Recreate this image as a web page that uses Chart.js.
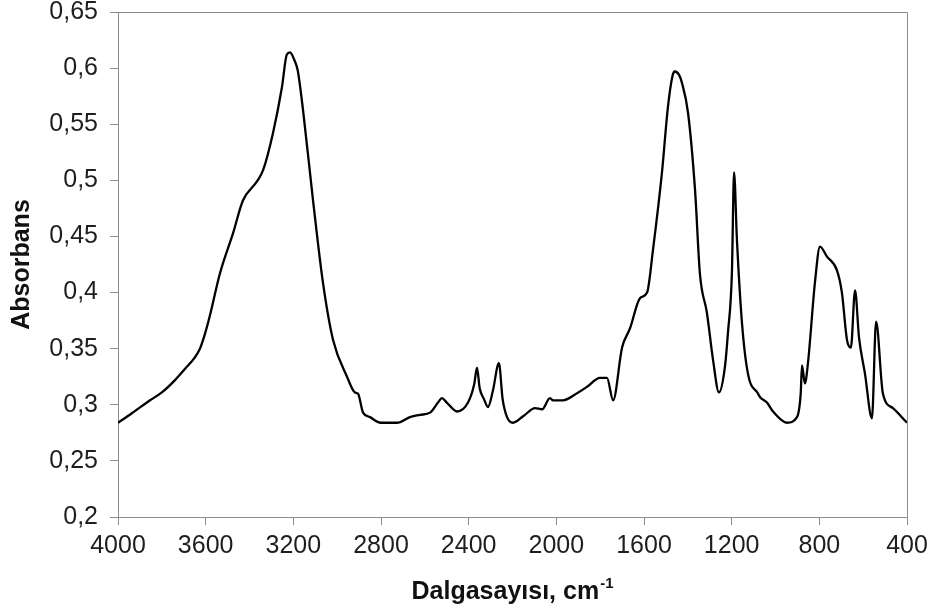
<!DOCTYPE html>
<html>
<head>
<meta charset="utf-8">
<script src="https://cdn.jsdelivr.net/npm/chart.js@4"></script>
<style>
  html, body { margin: 0; padding: 0; background: #fff; }
  canvas { display: block; }
</style>
</head>
<body>
<canvas id="myChart" width="933" height="610"></canvas>
<script>
// spectrum (wavenumber in cm-1, absorbance)
const wavenumbers = [
    4000, 3940, 3890, 3854, 3800, 3740, 3690, 3650, 3626, 3605, 3580, 3535, 3475, 3430, 3366, 3338, 3293, 3252,
    3230, 3215, 3195, 3180, 3156, 3110, 3065, 3019, 2955, 2919, 2905, 2882, 2850, 2818, 2800, 2727,
    2668, 2622, 2576, 2540, 2522, 2500, 2453, 2403, 2375, 2362, 2350, 2330, 2312, 2290, 2262, 2245,
    2225, 2198, 2150, 2097, 2065, 2029, 2015, 2006, 1970, 1900, 1860, 1801, 1769, 1741, 1700, 1664,
    1618, 1586, 1559, 1518, 1491, 1470, 1459, 1440, 1427, 1399, 1367, 1345, 1313, 1285, 1258, 1230,
    1217, 1199, 1189, 1176, 1153, 1126, 1080, 1071, 1039, 1011, 948, 902, 885, 879, 866, 852,
    820, 797, 765, 720, 697, 674, 656, 637, 619, 592, 560, 541, 510, 464, 400
];
const absorbance = [
    0.284, 0.292, 0.299, 0.304, 0.311, 0.322, 0.333, 0.342, 0.350, 0.362, 0.380, 0.417, 0.453, 0.482, 0.499, 0.509, 0.542, 0.583,
    0.612, 0.614, 0.607, 0.598, 0.563, 0.482, 0.409, 0.358, 0.325, 0.311, 0.310, 0.293, 0.289, 0.285, 0.284, 0.284,
    0.289, 0.291, 0.293, 0.302, 0.306, 0.302, 0.294, 0.302, 0.318, 0.333, 0.315, 0.305, 0.298, 0.312, 0.337, 0.305,
    0.289, 0.284, 0.290, 0.297, 0.296, 0.306, 0.304, 0.304, 0.304, 0.311, 0.316, 0.324, 0.324, 0.304, 0.351, 0.368,
    0.395, 0.400, 0.438, 0.507, 0.565, 0.593, 0.597, 0.594, 0.587, 0.560, 0.491, 0.417, 0.382, 0.340, 0.311, 0.335,
    0.364, 0.417, 0.507, 0.447, 0.373, 0.328, 0.310, 0.307, 0.302, 0.294, 0.284, 0.289, 0.310, 0.335, 0.319, 0.337,
    0.409, 0.441, 0.432, 0.420, 0.400, 0.358, 0.351, 0.402, 0.360, 0.328, 0.288, 0.374, 0.310, 0.297, 0.284
];
const xTicks = [4000, 3600, 3200, 2800, 2400, 2000, 1600, 1200, 800, 400];
const yTicks = [0.2, 0.25, 0.3, 0.35, 0.4, 0.45, 0.5, 0.55, 0.6, 0.65];

const points = wavenumbers.map((w, i) => ({ x: w, y: absorbance[i] }));
const fontFamily = "'Liberation Sans', Arial, sans-serif";
const axisColor = '#8c8c8c';

// top + right edges of the plot box
const boxPlugin = {
    id: 'box',
    beforeDatasetsDraw(chart) {
        const a = chart.chartArea;
        const ctx = chart.ctx;
        ctx.save();
        ctx.strokeStyle = axisColor;
        ctx.lineWidth = 1;
        ctx.beginPath();
        ctx.moveTo(a.left, a.top + 0.5);
        ctx.lineTo(a.right + 0.5, a.top + 0.5);
        ctx.lineTo(a.right + 0.5, a.bottom);
        ctx.stroke();
        ctx.restore();
    }
};

// x title with the superscript -1
const xTitlePlugin = {
    id: 'xTitle',
    afterDraw(chart) {
        const a = chart.chartArea;
        const ctx = chart.ctx;
        const main = 'Dalgasayısı, cm';
        const sup = '-1';
        ctx.save();
        ctx.fillStyle = '#111';
        ctx.textBaseline = 'alphabetic';
        ctx.font = 'bold 25px ' + fontFamily;
        const w1 = ctx.measureText(main).width;
        ctx.font = 'bold 15px ' + fontFamily;
        const w2 = ctx.measureText(sup).width;
        const x0 = (a.left + a.right) / 2 - (w1 + w2 + 1) / 2;
        ctx.font = 'bold 25px ' + fontFamily;
        ctx.fillText(main, x0, 599);
        ctx.font = 'bold 15px ' + fontFamily;
        ctx.fillText(sup, x0 + w1 + 1, 588);
        ctx.restore();
    }
};

const ctx = document.getElementById('myChart').getContext('2d');
const myChart = new Chart(ctx, {
    type: 'scatter',
    data: {
        datasets: [{
            data: points,
            showLine: true,
            borderColor: '#000',
            borderWidth: 2.3,
            pointRadius: 0,
            fill: false,
            cubicInterpolationMode: 'monotone'
        }]
    },
    options: {
        responsive: false,
        animation: false,
        devicePixelRatio: 1,
        layout: { padding: { left: 0, right: 26, top: 12, bottom: 0 } },
        plugins: {
            legend: { display: false },
            tooltip: { enabled: false }
        },
        scales: {
            x: {
                type: 'linear',
                reverse: true,
                min: 400,
                max: 4000,
                afterFit: (scale) => {
                    scale.height = 93;
                    scale.paddingLeft = 0;
                    scale.paddingRight = 0;
                },
                afterBuildTicks: (scale) => { scale.ticks = xTicks.map(v => ({ value: v })); },
                grid: { display: true, drawOnChartArea: false, drawTicks: true, tickLength: 8, color: axisColor },
                border: { display: true, color: axisColor },
                ticks: {
                    color: '#1e1e1e',
                    padding: 6,
                    maxRotation: 0,
                    font: { family: fontFamily, size: 25 },
                    callback: (v) => String(v)
                }
            },
            y: {
                type: 'linear',
                min: 0.2,
                max: 0.65,
                afterFit: (scale) => {
                    scale.width = 118;
                    scale.paddingTop = 0;
                    scale.paddingBottom = 0;
                },
                afterBuildTicks: (scale) => { scale.ticks = yTicks.map(v => ({ value: v })); },
                grid: { display: true, drawOnChartArea: false, drawTicks: true, tickLength: 8, color: axisColor },
                border: { display: true, color: axisColor },
                title: {
                    display: true,
                    text: 'Absorbans',
                    color: '#111',
                    font: { family: fontFamily, size: 25, weight: 'bold' },
                    padding: { top: 7, bottom: 0 }
                },
                ticks: {
                    color: '#1e1e1e',
                    padding: 12,
                    font: { family: fontFamily, size: 25 },
                    callback: (v) => String(Math.round(v * 100) / 100).replace('.', ',')
                }
            }
        }
    },
    plugins: [boxPlugin, xTitlePlugin]
});
</script>
</body>
</html>
